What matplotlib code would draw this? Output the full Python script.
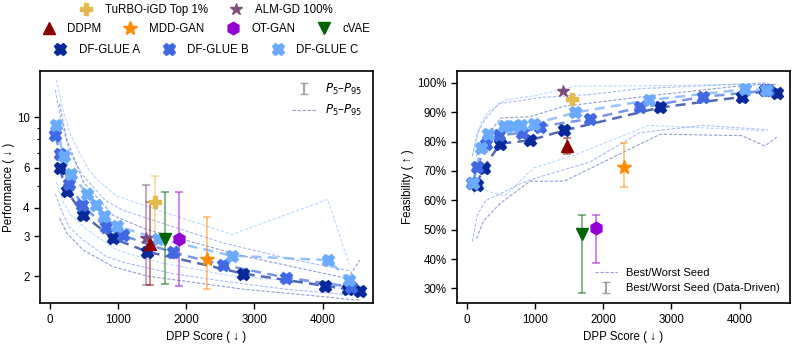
import matplotlib
matplotlib.use("Agg")
import matplotlib.pyplot as plt
from matplotlib.lines import Line2D
from matplotlib.ticker import FixedLocator, NullFormatter, FuncFormatter, PercentFormatter
import numpy as np

plt.rcParams['font.family'] = ['Liberation Sans', 'DejaVu Sans']
plt.rcParams['font.size'] = 8.3

# DF-GLUE variants: DPP score, performance, feasibility (%) and seed bands
a_dpp = [146, 250, 495, 930, 1430, 2840, 4035, 4370, 4545]
a_perf = [5.97, 4.76, 3.72, 2.93, 2.56, 2.05, 1.81, 1.75, 1.72]
a_perf_hi = [11.5, 8.0, 5.2, 3.7, 3.2, 2.45, 2.05, 1.95, 2.35]
a_perf_lo = [3.6, 3.1, 2.6, 2.2, 2.0, 1.75, 1.62, 1.58, 1.57]
a_feas = [65.3, 71.1, 79.3, 80.4, 83.8, 91.6, 95.2, 97.4, 96.6]
a_feas_hi = [75, 80, 88, 88.5, 92, 96, 99, 99.5, 99.5]
a_feas_lo = [47, 53, 59, 66.5, 66.5, 82.5, 82, 78.5, 81.5]

b_dpp = [85, 157, 285, 478, 820, 1075, 1805, 2537, 3465, 4420]
b_perf = [8.33, 6.91, 5.10, 4.12, 3.28, 3.02, 2.54, 2.24, 1.97, 1.79]
b_perf_hi = [13.2, 10.0, 7.2, 5.6, 4.3, 3.9, 3.3, 2.8, 2.4, 2.1]
b_perf_lo = [4.6, 4.0, 3.3, 2.9, 2.45, 2.3, 2.05, 1.9, 1.75, 1.65]
b_feas = [66.0, 71.2, 79.3, 82.1, 83.0, 85.1, 87.7, 91.6, 95.2, 97.4]
b_feas_hi = [75, 83, 88, 93, 94, 95, 96, 98, 99, 100]
b_feas_lo = [46, 55, 60, 62, 66, 68, 73, 83, 85.5, 84]

c_dpp = [98, 206, 313, 554, 678, 800, 985, 1595, 2670, 4075, 4390]
c_perf = [9.28, 6.73, 5.62, 4.60, 4.10, 3.66, 3.32, 2.92, 2.46, 2.35, 1.93]
c_perf_hi = [14.7, 10.5, 8.3, 6.0, 5.4, 5.0, 4.5, 3.9, 3.05, 4.35, 2.25]
c_perf_lo = [5.2, 4.2, 3.7, 3.2, 3.0, 2.85, 2.6, 2.3, 2.0, 1.85, 1.7]
c_feas = [65.8, 77.9, 82.6, 85.2, 85.4, 85.5, 86.0, 89.9, 94.1, 97.8, 97.6]
c_feas_hi = [76, 86, 90, 94, 94.5, 95, 95.5, 98.9, 99, 99.5, 99.5]
c_feas_lo = [62, 66.5, 63, 61.5, 64, 67, 71, 75.5, 85.5, 84, 83.5]

# baselines
base_names = ["TuRBO-iGD Top 1%", "ALM-GD 100%", "DDPM", "MDD-GAN", "OT-GAN", "cVAE"]
base_dpp = [1545, 1420, 1465, 2305, 1895, 1690]
base_perf = [4.23, 2.93, 2.76, 2.38, 2.90, 2.90]
base_perf_lo = [2.95, 1.83, 1.83, 1.75, 1.81, 1.84]
base_perf_hi = [5.49, 5.04, 4.23, 3.63, 4.71, 4.71]
base_feas = [94.4, 97.2, 78.4, 71.4, 50.7, 48.5]
base_feas_lo = [94.4, 97.2, 75.9, 64.5, 38.7, 28.6]
base_feas_hi = [94.4, 97.2, 81.2, 79.6, 54.9, 54.9]

base_colors = ['#e6b94f', '#7d4b7d', '#8b0000', '#ff8c00', '#9400d3', '#006400']
base_markers = ['P', '*', '^', '*', 'h', 'v']
base_ms = [9, 9, 9, 10, 9, 9]

glue_colors = ['#08299a', '#4169e1', '#6aabff']
glue_names = ['DF-GLUE A', 'DF-GLUE B', 'DF-GLUE C']
band_color = '#9a9ae0'

fig = plt.figure(figsize=(7.92, 3.5), dpi=100)
ax1 = fig.add_axes([0.0505, 0.134, 0.4205, 0.663])
ax2 = fig.add_axes([0.577, 0.134, 0.4205, 0.663])

glue = [
    (a_dpp, a_perf, a_perf_hi, a_perf_lo, a_feas, a_feas_hi, a_feas_lo),
    (b_dpp, b_perf, b_perf_hi, b_perf_lo, b_feas, b_feas_hi, b_feas_lo),
    (c_dpp, c_perf, c_perf_hi, c_perf_lo, c_feas, c_feas_hi, c_feas_lo),
]

for (dpp, perf, phi, plo, feas, fhi, flo), col in zip(glue, glue_colors):
    for ax, y, hi, lo in [(ax1, perf, phi, plo), (ax2, feas, fhi, flo)]:
        ax.plot(dpp, hi, color=col, lw=0.8, ls=(0, (3, 1.5)), alpha=0.45, zorder=1)
        ax.plot(dpp, lo, color=col, lw=0.8, ls=(0, (3, 1.5)), alpha=0.45, zorder=1)
        ax.plot(dpp, y, color=col, lw=1.8, ls=(0, (4, 2.5)), alpha=0.7, zorder=2)
        ax.plot(dpp, y, ls='none', marker='X', ms=7.5, color=col, mec=col, mew=2.0, zorder=4)

for i in range(len(base_names)):
    col = base_colors[i]
    ax1.errorbar([base_dpp[i]], [base_perf[i]],
                 yerr=[[base_perf[i] - base_perf_lo[i]], [base_perf_hi[i] - base_perf[i]]],
                 fmt='none', ecolor=col, alpha=0.5, capsize=3, elinewidth=1.3, capthick=1.3, zorder=3)
    ax1.plot(base_dpp[i], base_perf[i], marker=base_markers[i], ms=base_ms[i], color=col, ls='none', zorder=5)
    if base_feas_hi[i] > base_feas_lo[i]:
        ax2.errorbar([base_dpp[i]], [base_feas[i]],
                     yerr=[[base_feas[i] - base_feas_lo[i]], [base_feas_hi[i] - base_feas[i]]],
                     fmt='none', ecolor=col, alpha=0.5, capsize=3, elinewidth=1.3, capthick=1.3, zorder=3)
    ax2.plot(base_dpp[i], base_feas[i], marker=base_markers[i], ms=base_ms[i], color=col, ls='none', zorder=5)

# axes styling
ax1.set_yscale('log')
ax1.set_ylim(1.52, 16)
ax1.yaxis.set_major_locator(FixedLocator([2, 3, 4, 6, 10]))
ax1.yaxis.set_major_formatter(FuncFormatter(lambda v, p: f"{v:g}"))
ax1.yaxis.set_minor_locator(FixedLocator([5, 7, 8, 9]))
ax1.yaxis.set_minor_formatter(NullFormatter())
ax1.set_ylabel("Performance ( ↓ )", labelpad=1)

ax2.set_ylim(25, 104)
ax2.set_yticks(range(30, 101, 10))
ax2.yaxis.set_major_formatter(PercentFormatter(100, decimals=0))
ax2.set_ylabel("Feasibility ( ↑ )", labelpad=2)

for ax in (ax1, ax2):
    ax.set_xlim(-140, 4740)
    ax.set_xticks([0, 1000, 2000, 3000, 4000])
    ax.set_xlabel("DPP Score ( ↓ )")
    for s in ax.spines.values():
        s.set_linewidth(1.2)
    ax.tick_params(which='major', length=4, width=1)
    ax.tick_params(which='minor', length=2.5, width=0.8)

# in-axes legend, right panel
eb2 = ax2.errorbar([np.nan], [np.nan], yerr=[[1], [1]], fmt='none', ecolor='grey', alpha=0.7, capsize=3)
ln2 = Line2D([], [], color=band_color, lw=0.8, ls=(0, (3, 1.5)))
ax2.legend([ln2, eb2], ['Best/Worst Seed', 'Best/Worst Seed (Data-Driven)'], loc='lower right',
           frameon=False, fontsize=8, handlelength=2.0)

# top legends above the left panel
def proxy(m, c, ms, mew=1.0):
    return Line2D([], [], ls='none', marker=m, color=c, ms=ms, mew=mew)

rows = [([0, 1], 1.263), ([2, 3, 4, 5], 1.181)]
for idx, ypos in rows:
    leg = ax1.legend([proxy(base_markers[i], base_colors[i], base_ms[i]) for i in idx],
                     [base_names[i] for i in idx], loc='center', bbox_to_anchor=(0.5, ypos),
                     ncol=len(idx), frameon=False, fontsize=8.3, handlelength=1.0,
                     handletextpad=1.1, columnspacing=2.0, borderaxespad=0)
    ax1.add_artist(leg)
leg3 = ax1.legend([proxy('X', c, 7.5, 2.0) for c in glue_colors], glue_names, loc='center',
                  bbox_to_anchor=(0.5, 1.09), ncol=3, frameon=False, fontsize=8.3, handlelength=1.0,
                  handletextpad=1.1, columnspacing=2.0, borderaxespad=0)
ax1.add_artist(leg3)

# P5-P95 legend, left panel
eb1 = ax1.errorbar([np.nan], [np.nan], yerr=[[1], [1]], fmt='none', ecolor='grey', alpha=0.7, capsize=3)
ln1 = Line2D([], [], color=band_color, lw=0.8, ls=(0, (3, 1.5)))
ax1.legend([eb1, ln1], ['$P_5$–$P_{95}$', '$P_5$–$P_{95}$'], loc='upper right', frameon=False,
           fontsize=8.5, handlelength=2.0)

fig.savefig("out.png", dpi=100)
plt.close(fig)
